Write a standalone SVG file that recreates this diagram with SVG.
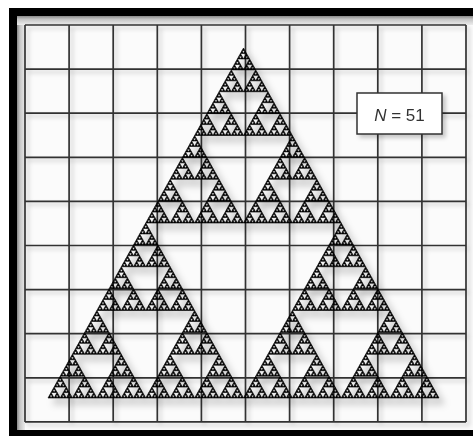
<svg xmlns="http://www.w3.org/2000/svg" width="473" height="436" viewBox="0 0 473 436">
  <defs>
    <style>
      .grid line { stroke: #333; stroke-width: 1.7; }
      .lbl { font-family: "Liberation Sans", Arial, sans-serif; font-size: 17px; fill: #333; }
    </style>
    <linearGradient id="bevL" x1="0" y1="0" x2="1" y2="0">
      <stop offset="0" stop-color="#8a8a8a"/>
      <stop offset="0.35" stop-color="#c4c4c4"/>
      <stop offset="1" stop-color="#ededed"/>
    </linearGradient>
    <linearGradient id="bevT" x1="0" y1="0" x2="0" y2="1">
      <stop offset="0" stop-color="#8a8a8a"/>
      <stop offset="0.35" stop-color="#c4c4c4"/>
      <stop offset="1" stop-color="#ededed"/>
    </linearGradient>
    <filter id="sh" x="-10%" y="-10%" width="130%" height="130%">
      <feDropShadow dx="3" dy="3" stdDeviation="2" flood-color="#000" flood-opacity="0.22"/>
    </filter>
    <filter id="sh2" x="-10%" y="-10%" width="130%" height="130%">
      <feDropShadow dx="5" dy="6" stdDeviation="3.5" flood-color="#000" flood-opacity="0.3"/>
    </filter>
    <path id="t0" d="M0 0 L-195.5 350 L195.5 350 Z" fill="#000" stroke="#000" stroke-width="0.6" vector-effect="non-scaling-stroke"/>
    <g id="t1"><use href="#t0" transform="scale(.5)"/><use href="#t0" transform="translate(-97.75 175) scale(.5)"/><use href="#t0" transform="translate(97.75 175) scale(.5)"/></g>
    <g id="t2"><use href="#t1" transform="scale(.5)"/><use href="#t1" transform="translate(-97.75 175) scale(.5)"/><use href="#t1" transform="translate(97.75 175) scale(.5)"/></g>
    <g id="t3"><use href="#t2" transform="scale(.5)"/><use href="#t2" transform="translate(-97.75 175) scale(.5)"/><use href="#t2" transform="translate(97.75 175) scale(.5)"/></g>
    <g id="t4"><use href="#t3" transform="scale(.5)"/><use href="#t3" transform="translate(-97.75 175) scale(.5)"/><use href="#t3" transform="translate(97.75 175) scale(.5)"/></g>
    <g id="t5"><use href="#t4" transform="scale(.5)"/><use href="#t4" transform="translate(-97.75 175) scale(.5)"/><use href="#t4" transform="translate(97.75 175) scale(.5)"/></g>
    <g id="t6"><use href="#t5" transform="scale(.5)"/><use href="#t5" transform="translate(-97.75 175) scale(.5)"/><use href="#t5" transform="translate(97.75 175) scale(.5)"/></g>
    <g id="t7"><use href="#t6" transform="scale(.5)"/><use href="#t6" transform="translate(-97.75 175) scale(.5)"/><use href="#t6" transform="translate(97.75 175) scale(.5)"/></g>
  </defs>

  <rect width="473" height="436" fill="#ffffff"/>
  <g id="frame">
    <rect x="9" y="8" width="470" height="440" fill="#000"/>
    <rect x="17" y="16" width="460" height="414" fill="#fbfbfb"/>
    <rect x="17" y="16" width="8" height="414" fill="url(#bevL)"/>
    <rect x="17" y="16" width="460" height="9" fill="url(#bevT)"/>
  </g>

  <g id="grid" class="grid" filter="url(#sh)">
    <line x1="25" y1="25" x2="25" y2="422"/>
    <line x1="69.1" y1="25" x2="69.1" y2="422"/>
    <line x1="113.2" y1="25" x2="113.2" y2="422"/>
    <line x1="157.3" y1="25" x2="157.3" y2="422"/>
    <line x1="201.4" y1="25" x2="201.4" y2="422"/>
    <line x1="245.5" y1="25" x2="245.5" y2="422"/>
    <line x1="289.6" y1="25" x2="289.6" y2="422"/>
    <line x1="333.7" y1="25" x2="333.7" y2="422"/>
    <line x1="377.8" y1="25" x2="377.8" y2="422"/>
    <line x1="421.9" y1="25" x2="421.9" y2="422"/>
    <line x1="466" y1="25" x2="466" y2="422"/>
    <line x1="25" y1="25" x2="466" y2="25"/>
    <line x1="25" y1="69.1" x2="466" y2="69.1"/>
    <line x1="25" y1="113.2" x2="466" y2="113.2"/>
    <line x1="25" y1="157.3" x2="466" y2="157.3"/>
    <line x1="25" y1="201.4" x2="466" y2="201.4"/>
    <line x1="25" y1="245.5" x2="466" y2="245.5"/>
    <line x1="25" y1="289.6" x2="466" y2="289.6"/>
    <line x1="25" y1="333.7" x2="466" y2="333.7"/>
    <line x1="25" y1="377.8" x2="466" y2="377.8"/>
    <line x1="25" y1="421.9" x2="466" y2="421.9"/>
  </g>

  <g id="sierpinski" filter="url(#sh2)">
    <use href="#t7" transform="translate(243.5 48)"/>
  </g>

  <g id="label" filter="url(#sh)">
    <rect x="357" y="93" width="85" height="41" fill="#fff" stroke="#333" stroke-width="1.5"/>
    <text class="lbl" x="399.5" y="120.5" text-anchor="middle"><tspan font-style="italic">N</tspan> = 51</text>
  </g>
</svg>
